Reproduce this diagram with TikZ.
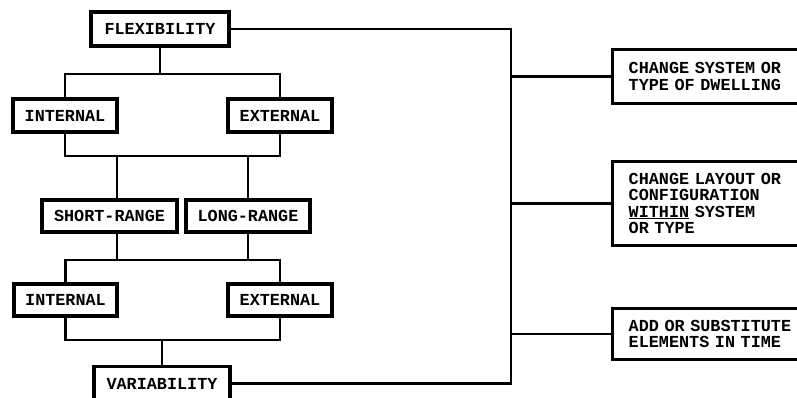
\documentclass[tikz,border=0pt]{standalone}
\usepackage{fontspec}
\setmonofont{Liberation Mono}
\begin{document}
\begin{tikzpicture}[x=1pt,y=-1pt,
  box/.style={draw, line width=3.4pt, inner sep=0pt, font=\ttfamily\bfseries\fontsize{16.8}{16.5}\selectfont},
  rbox/.style={box, anchor=west, inner xsep=16pt, text width=188pt, minimum width=220pt, align=left},
  link/.style={line width=2.3pt},
]
\useasboundingbox (0,0) rectangle (797,398);
% left column
\node[box, minimum width=138pt, minimum height=34pt] (flex) at (160,29) {FLEXIBILITY};
\node[box, minimum width=104pt, minimum height=33pt] (int1) at (65,115.5) {INTERNAL};
\node[box, minimum width=104pt, minimum height=33pt] (ext1) at (280,115.5) {EXTERNAL};
\node[box, minimum width=135pt, minimum height=32pt] (sr) at (109.5,216) {SHORT-RANGE};
\node[box, minimum width=124pt, minimum height=32pt] (lr) at (248,216) {LONG-RANGE};
\node[box, minimum width=103pt, minimum height=32pt] (int2) at (65.5,300) {INTERNAL};
\node[box, minimum width=104pt, minimum height=32pt] (ext2) at (280,300) {EXTERNAL};
\node[box, minimum width=136pt, minimum height=34pt] (var) at (162,383.5) {VARIABILITY};
% right column
\node[rbox, minimum height=54pt] (r1) at (611,76.5) {CHANGE SYSTEM OR\\TYPE OF DWELLING};
\node[rbox, minimum height=84pt] (r2) at (611,203.5) {CHANGE LAYOUT OR\\CONFIGURATION\\\underline{WITHIN} SYSTEM\\OR TYPE};
\node[rbox, minimum height=51pt] (r3) at (611,334) {ADD OR~SUBSTITUTE\\ELEMENTS IN TIME};
% helper coordinates
\coordinate (jt) at (511,28);
\coordinate (b1) at (0,74);
\coordinate (b2) at (0,156);
\coordinate (b3) at (0,260);
\coordinate (b4) at (0,340);
\coordinate (srx) at (117,0);
% tree connectors
\draw[link] (flex.south) -- (flex.south |- b1);
\draw[link] (int1.north) -- (int1.north |- b1) -- (ext1.north |- b1) -- (ext1.north);
\draw[link] (int1.south) -- (int1.south |- b2) -- (ext1.south |- b2) -- (ext1.south);
\draw[link] (srx |- b2) -- (srx |- sr.north);
\draw[link] (lr.north) -- (lr.north |- b2);
\draw[link] (srx |- sr.south) -- (srx |- b3);
\draw[link] (lr.south) -- (lr.south |- b3);
\draw[link] (int2.north) -- (int2.north |- b3) -- (ext2.north |- b3) -- (ext2.north);
\draw[link] (int2.south) -- (int2.south |- b4) -- (ext2.south |- b4) -- (ext2.south);
\draw[link] (var.north) -- (var.north |- b4);
% right bus
\draw[link] (flex.east) -- (flex.east -| jt) -- (var.east -| jt) -- (var.east);
\draw[link] (r1.west -| jt) -- (r1.west);
\draw[link] (r2.west -| jt) -- (r2.west);
\draw[link] (r3.west -| jt) -- (r3.west);
\end{tikzpicture}
\end{document}
